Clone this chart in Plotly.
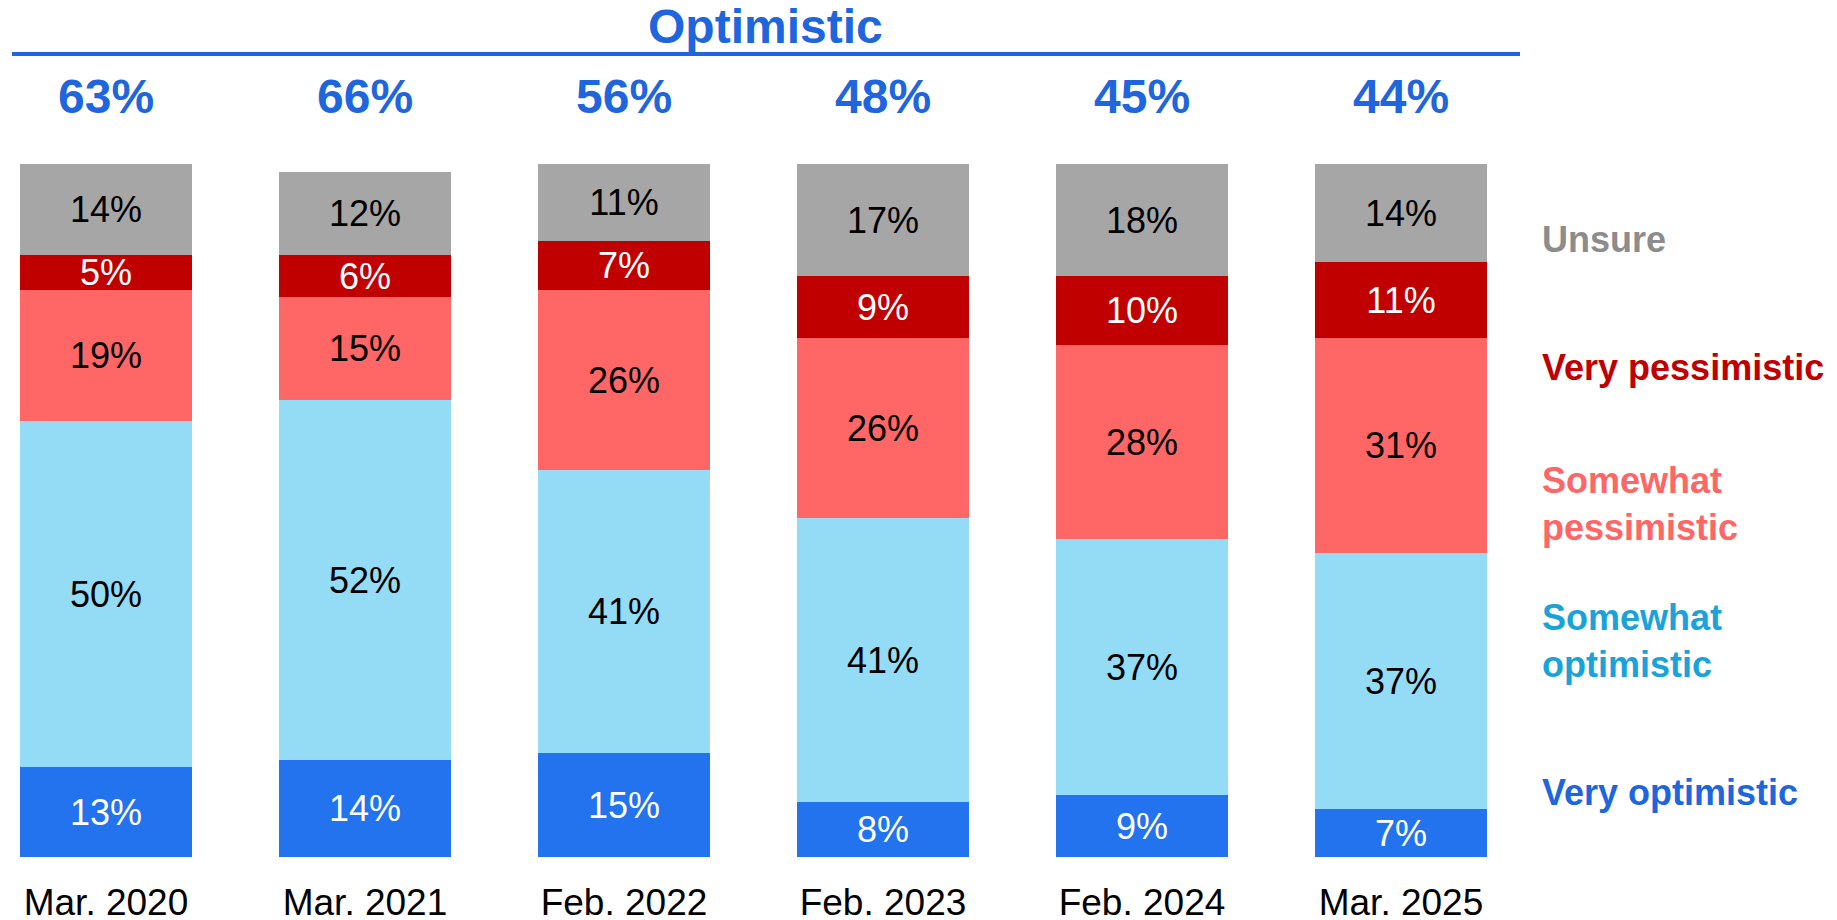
import plotly.graph_objects as go

categories = ["Mar. 2020", "Mar. 2021", "Feb. 2022", "Feb. 2023", "Feb. 2024", "Mar. 2025"]
very_optimistic = [13, 14, 15, 8, 9, 7]
somewhat_optimistic = [50, 52, 41, 41, 37, 37]
somewhat_pessimistic = [19, 15, 26, 26, 28, 31]
very_pessimistic = [5, 6, 7, 9, 10, 11]
unsure = [14, 12, 11, 17, 18, 14]
# drawn height of the "Unsure" segment as measured in the picture
unsure_drawn = [13.2, 12, 11.1, 16.1, 16.1, 14.1]
optimistic_total = [63, 66, 56, 48, 45, 44]

series = [
    ("Very optimistic", very_optimistic, very_optimistic, "#2372ee", "white"),
    ("Somewhat optimistic", somewhat_optimistic, somewhat_optimistic, "#94dbf6", "black"),
    ("Somewhat pessimistic", somewhat_pessimistic, somewhat_pessimistic, "#ff6666", "black"),
    ("Very pessimistic", very_pessimistic, very_pessimistic, "#c00000", "white"),
    ("Unsure", unsure_drawn, unsure, "#a6a6a6", "black"),
]

FONT = "Liberation Sans, Arial, sans-serif"

# page offset (body margin 8px) compensation
W, H = 1821, 920
PLOT_BOTTOM_PAGE = 857
PLOT_H = 761
PLOT_BOTTOM_FIG = PLOT_BOTTOM_PAGE - 8
MARGIN_B = H - PLOT_BOTTOM_FIG
MARGIN_T = PLOT_BOTTOM_FIG - PLOT_H


def px(xpage):
    return (xpage - 8) / W


def py(ypage):
    return (PLOT_BOTTOM_PAGE - ypage) / PLOT_H


fig = go.Figure()
for name, heights, labels, color, tcolor in series:
    fig.add_trace(go.Bar(
        x=categories, y=heights, name=name,
        marker=dict(color=color, line=dict(width=0)),
        width=0.664,
        text=[f"{v}%" for v in labels],
        textposition="inside", insidetextanchor="middle",
        textangle=0, constraintext="none",
        textfont=dict(family=FONT, size=36, color=tcolor),
        hoverinfo="skip",
    ))

# Header: Optimistic
fig.add_annotation(text="<b>Optimistic</b>", xref="paper", yref="paper",
                   x=px(765), y=py(27), xanchor="center", yanchor="middle",
                   showarrow=False, font=dict(family=FONT, size=48, color="#1f66de"))
fig.add_shape(type="line", xref="paper", yref="paper",
              x0=px(12), x1=px(1520), y0=py(54), y1=py(54),
              line=dict(color="#1f66de", width=4))

for cat, tot in zip(categories, optimistic_total):
    fig.add_annotation(text=f"<b>{tot}%</b>", x=cat, xref="x", yref="paper",
                       y=py(96), xanchor="center", yanchor="middle",
                       showarrow=False, font=dict(family=FONT, size=48, color="#1f66de"))

# Right-side labels
legend_labels = [
    ("Unsure", 239, "#8c8c8c"),
    ("Very pessimistic", 368, "#c00000"),
    ("Somewhat<br>pessimistic", 504, "#ff6666"),
    ("Somewhat<br>optimistic", 641, "#1aa3d9"),
    ("Very optimistic", 792, "#1f66de"),
]
for txt, ypix, col in legend_labels:
    fig.add_annotation(text=f"<b>{txt}</b>", xref="paper", yref="paper",
                       x=px(1540), y=py(ypix), xanchor="left", yanchor="middle",
                       align="left", showarrow=False,
                       font=dict(family=FONT, size=36, color=col))

fig.update_layout(
    barmode="stack",
    width=W, height=H,
    margin=dict(l=0, r=0, t=MARGIN_T, b=MARGIN_B, autoexpand=False),
    plot_bgcolor="white", paper_bgcolor="white",
    showlegend=False,
    bargap=0,
    xaxis=dict(range=[-98 / 259, (W - 98) / 259], showgrid=False, zeroline=False,
               showline=False, ticks="", ticklabelstandoff=20, automargin=False,
               tickfont=dict(family=FONT, size=37, color="black")),
    yaxis=dict(range=[0, 110], visible=False, showgrid=False, zeroline=False,
               automargin=False),
)

fig.write_html("out.html")
